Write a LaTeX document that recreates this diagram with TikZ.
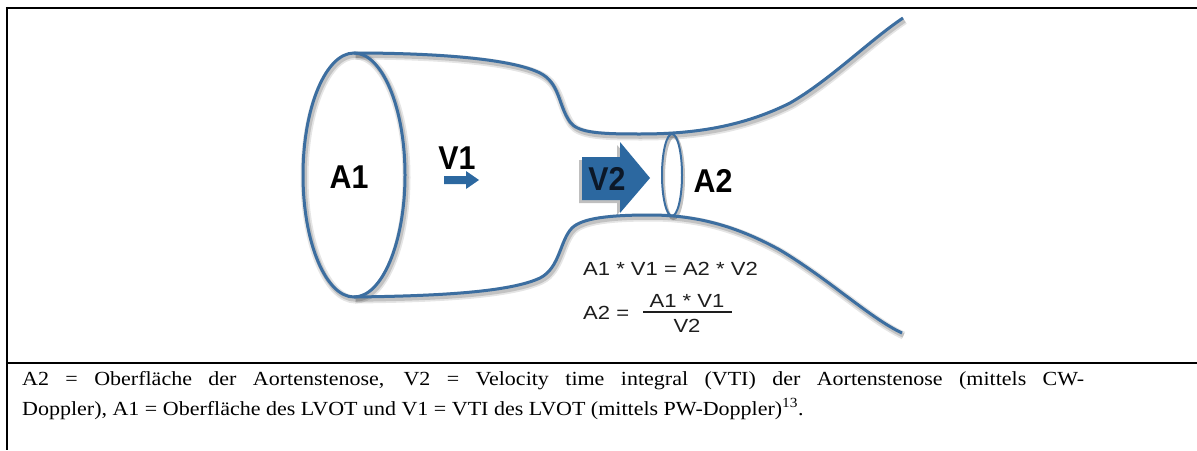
\documentclass[tikz,border=0pt]{standalone}
\usepackage{fontspec}
\setmainfont[FakeStretch=1.1]{Liberation Serif}
\newfontfamily\labelfont[FakeStretch=0.92]{Liberation Sans}
\newfontfamily\eqfont[FakeStretch=1.16]{Liberation Sans}
\definecolor{vessel}{RGB}{60,110,160}
\definecolor{flow}{RGB}{44,104,160}
\definecolor{ink}{RGB}{30,30,30}
\definecolor{deep}{RGB}{12,24,40}
% vessel outline: upper and lower walls
\def\upperwall{(354,53) .. controls (430,53) and (510,58) .. (540,73)
  .. controls (560,83) and (558,105) .. (570,122)
  .. controls (578,133) and (600,134) .. (640,134)
  .. controls (690,134) and (740,128) .. (790,103)
  .. controls (830,80) and (870,40) .. (903,18)}
\def\lowerwall{(354,297) .. controls (440,296) and (510,292) .. (540,278)
  .. controls (560,268) and (560,240) .. (572,228)
  .. controls (582,218) and (610,215) .. (650,215)
  .. controls (700,215) and (740,228) .. (780,250)
  .. controls (830,280) and (870,318) .. (902,333)}
\begin{document}
\begin{tikzpicture}[x=1pt,y=-1pt,
  frame/.style={line width=2.5pt,black},
  wall/.style={draw=vessel,line width=3pt},
  haze/.style={draw=black,opacity=0.10,line width=8pt,shift={(1.5,2.5)}},
  hazecore/.style={draw=black,opacity=0.15,line width=4.5pt,shift={(1.5,2.5)}},
  lbl/.style={font=\labelfont\bfseries\fontsize{33}{38}\selectfont,text=black,inner sep=0pt},
  eqn/.style={font=\eqfont\fontsize{19}{23}\selectfont,text=ink,inner sep=0pt},
  caption/.style={font=\fontsize{20}{24}\selectfont,text=black,inner sep=0pt,anchor=base west},
  flowarrow/.style={fill=flow,draw=none}
]
\useasboundingbox (0,0) rectangle (1197,450);
\fill[white] (0,0) rectangle (1197,450);

% frame
\draw[frame] (5.75,8) -- (1197,8);
\draw[frame] (7,6.75) -- (7,450);
\draw[frame] (5.75,363) -- (1197,363);

% soft shadows of the vessel
\foreach \s in {haze,hazecore}{
  \draw[\s] \upperwall;
  \draw[\s] \lowerwall;
  \draw[\s] (354,175) ellipse [x radius=51, y radius=122];
  \draw[\s,line width=3pt] (672,175) ellipse [x radius=10, y radius=41];
}

% vessel walls
\draw[wall] \upperwall;
\draw[wall] \lowerwall;
\draw[wall] (354,175) ellipse [x radius=51, y radius=122];
\draw[wall,line width=2pt] (672,175) ellipse [x radius=10, y radius=41];

% flow arrows
\fill[black,opacity=0.25] (579,160) -- (617,160) -- (617,145) -- (647,180) -- (617,215) -- (617,203) -- (579,203) -- cycle;
\fill[flowarrow] (582,157) -- (620,157) -- (620,142) -- (650,178) -- (620,213) -- (620,200) -- (582,200) -- cycle;
\fill[flowarrow] (444,176) -- (466,176) -- (466,171) -- (479,180) -- (466,189) -- (466,184) -- (444,184) -- cycle;

% labels
\node[lbl] (a1) at (349,177) {A1};
\node[lbl] (v1) at (457,158) {V1};
\node[lbl,text=deep] (v2) at (607,179) {V2};
\node[lbl] (a2) at (713,181) {A2};

% continuity equation
\node[eqn,anchor=base west] (eq1) at (583,275) {A1 * V1 = A2 * V2};
\node[eqn,anchor=base west] (eq2) at (583,319) {A2 =};
\node[eqn,anchor=base] (num) at (687,307) {A1 * V1};
\node[eqn,anchor=base] (den) at (687,332) {V2};
\draw[ink,line width=1.3pt] (643,312) -- (732,312);

% caption
\node[caption] (cap1) at (22,385) {\makebox[1062pt][s]{A2 = Oberfläche der Aortenstenose, V2 = Velocity time integral (VTI) der Aortenstenose (mittels CW-}};
\node[caption] (cap2) at (22,415) {Doppler), A1 = Oberfläche des LVOT und V1 = VTI des LVOT (mittels PW-Doppler)\textsuperscript{13}.};
\end{tikzpicture}
\end{document}
